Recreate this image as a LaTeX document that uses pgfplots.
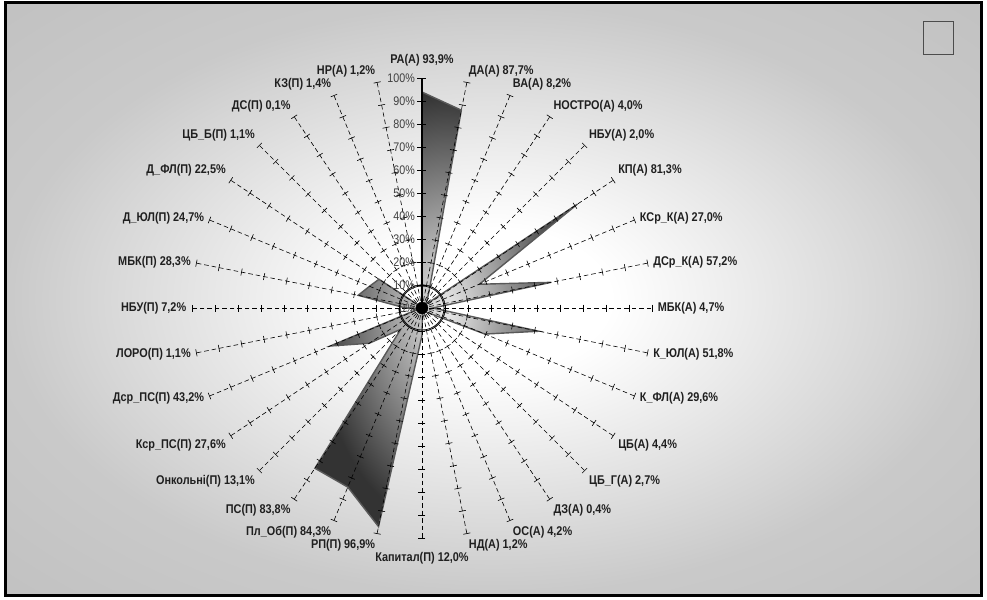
\documentclass[border=0pt]{standalone}
\usepackage{pgfplots}
\pgfplotsset{compat=1.18}
\usepgfplotslibrary{polar}
\usepackage{fontspec}
\setmainfont{Liberation Sans}[FakeStretch=0.86]

% background: white centre, grey edges
\pgfdeclareradialshading{bgshade}{\pgfpoint{0bp}{0bp}}{color(0bp)=(white); color(6bp)=(white); color(25bp)=(black!21); color(35bp)=(black!24); color(50bp)=(black!24)}

% category label at the end of a spoke
\newcommand{\lab}[4][102]{\node[anchor=#3, inner sep=1bp, font=\fontsize{12.7}{14}\selectfont\bfseries, text=black!88] at (axis cs:#2,#1) {#4};}

\begin{document}
\begin{tikzpicture}
  % chart area and frame (centre of the radar at 0,0)
  \shade[shading=bgshade] (-415bp,303.5bp) rectangle (557.5bp,-285.5bp);
  \draw[black, line width=3bp] (-416.5bp,305bp) rectangle (559bp,-287bp);
  \draw[black!70, line width=1bp] (501bp,286bp) rectangle (531bp,253bp);

  \begin{polaraxis}[
      at={(0,0)}, anchor=center,
      width=460bp, height=460bp,
      scale only axis,
      xmin=0, xmax=360,
      ymin=0, ymax=100,
      hide axis,
      clip=false,
    ]

    % values, clockwise from the top
    \addplot[draw=black!65, line width=1.4bp, inner color=black!8, outer color=black!80]
      coordinates {
        (90,93.9) (78.75,87.7) (67.5,8.2) (56.25,4.0) (45,2.0) (33.75,81.3)
        (22.5,27.0) (11.25,57.2) (0,4.7) (-11.25,51.8) (-22.5,29.6) (-33.75,4.4)
        (-45,2.7) (-56.25,0.4) (-67.5,4.2) (-78.75,1.2) (-90,12.0) (-101.25,96.9)
        (-112.5,84.3) (-123.75,83.8) (-135,13.1) (-146.25,27.6) (-157.5,43.2)
        (-168.75,1.1) (-180,7.2) (168.75,28.3) (157.5,24.7) (146.25,22.5)
        (135,1.1) (123.75,0.1) (112.5,1.4) (101.25,1.2) (90,93.9)
      };

    % spokes
    \pgfplotsinvokeforeach{1,...,31}{
      \addplot[black, line width=0.6bp, dash pattern=on 4.5bp off 3bp]
        coordinates {(90-11.25*#1,0) (90-11.25*#1,100)};
      \addplot[black, line width=0.6bp, only marks, mark=|, mark size=3.5bp,
               mark options={rotate=90-11.25*#1}]
        coordinates {(90-11.25*#1,10) (90-11.25*#1,20) (90-11.25*#1,30)
                     (90-11.25*#1,40) (90-11.25*#1,50) (90-11.25*#1,60)
                     (90-11.25*#1,70) (90-11.25*#1,80) (90-11.25*#1,90)
                     (90-11.25*#1,100)};
    }
    % value axis (top spoke)
    \addplot[black, line width=1.2bp] coordinates {(90,0) (90,100)};
    \addplot[black, line width=1bp, only marks, mark=|, mark size=4.5bp,
             mark options={rotate=90}]
      coordinates {(90,10) (90,20) (90,30) (90,40) (90,50) (90,60) (90,70)
                   (90,80) (90,90) (90,100)};
    \addplot[black, only marks, mark=*, mark size=6bp] coordinates {(0,0)};
    \draw[black, line width=0.7bp] (axis cs:0,0) circle[radius=22bp];

    \pgfplotsinvokeforeach{0,10,...,100}{
      \node[anchor=east, inner sep=1bp, xshift=-6bp,
            font=\fontsize{12.5}{13}\selectfont, text=black!75]
        at (axis cs:90,#1) {#1\%};
    }

    \lab[104.5]{90}{south}{РА(А) 93,9\%}
    \lab{78.75}{south west}{ДА(А) 87,7\%}
    \lab{67.5}{south west}{ВА(А) 8,2\%}
    \lab{56.25}{south west}{НОСТРО(А) 4,0\%}
    \lab{45}{south west}{НБУ(А) 2,0\%}
    \lab{33.75}{south west}{КП(А) 81,3\%}
    \lab{22.5}{west}{КСр\_К(А) 27,0\%}
    \lab{11.25}{west}{ДСр\_К(А) 57,2\%}
    \lab{0}{west}{МБК(А) 4,7\%}
    \lab{-11.25}{west}{К\_ЮЛ(А) 51,8\%}
    \lab{-22.5}{west}{К\_ФЛ(А) 29,6\%}
    \lab{-33.75}{north west}{ЦБ(А) 4,4\%}
    \lab{-45}{north west}{ЦБ\_Г(А) 2,7\%}
    \lab{-56.25}{north west}{ДЗ(А) 0,4\%}
    \lab{-67.5}{north west}{ОС(А) 4,2\%}
    \lab{-78.75}{north west}{НД(А) 1,2\%}
    \lab[105.5]{-90}{north}{Капитал(П) 12,0\%}
    \lab{-101.25}{north east}{РП(П) 96,9\%}
    \lab{-112.5}{north east}{Пл\_Об(П) 84,3\%}
    \lab{-123.75}{north east}{ПС(П) 83,8\%}
    \lab{-135}{north east}{Онкольні(П) 13,1\%}
    \lab{-146.25}{north east}{Кср\_ПС(П) 27,6\%}
    \lab{-157.5}{east}{Дср\_ПС(П) 43,2\%}
    \lab{-168.75}{east}{ЛОРО(П) 1,1\%}
    \lab{180}{east}{НБУ(П) 7,2\%}
    \lab{168.75}{east}{МБК(П) 28,3\%}
    \lab{157.5}{east}{Д\_ЮЛ(П) 24,7\%}
    \lab{146.25}{south east}{Д\_ФЛ(П) 22,5\%}
    \lab{135}{south east}{ЦБ\_Б(П) 1,1\%}
    \lab{123.75}{south east}{ДС(П) 0,1\%}
    \lab{112.5}{south east}{КЗ(П) 1,4\%}
    \lab{101.25}{south east}{НР(А) 1,2\%}
  \end{polaraxis}

  \pgfresetboundingbox
  \path[use as bounding box] (-422bp,308bp) rectangle (565bp,-292bp);
\end{tikzpicture}
\end{document}
